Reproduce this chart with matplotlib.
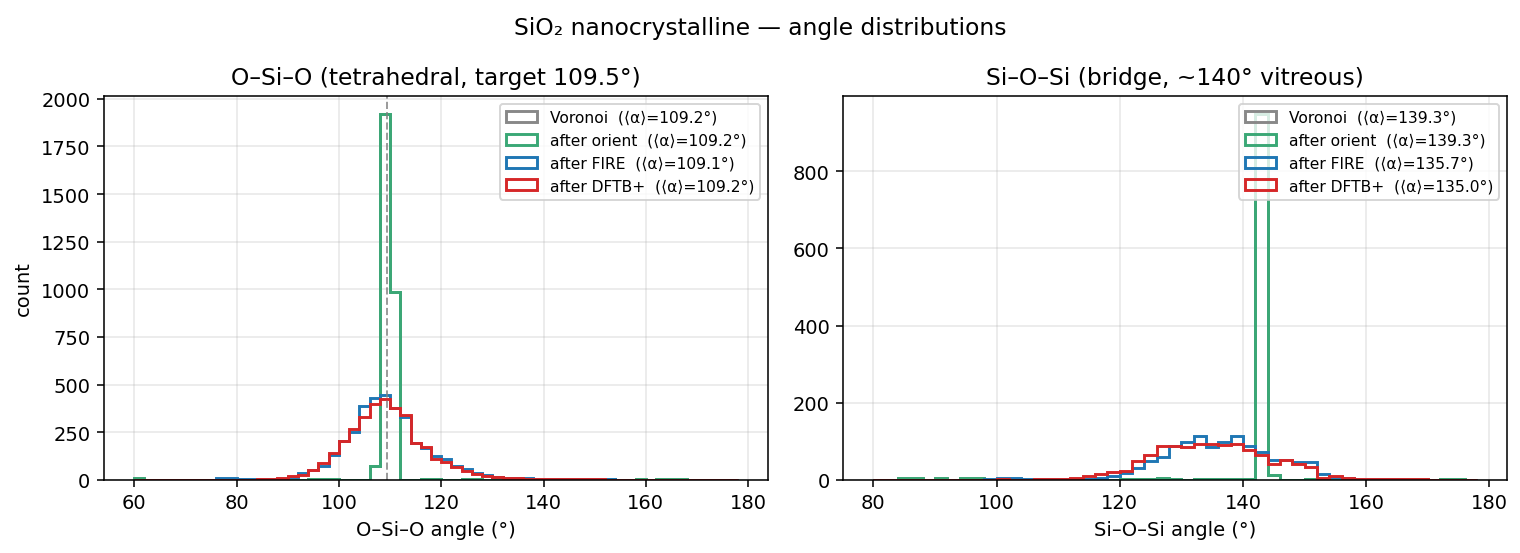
import matplotlib
matplotlib.use("Agg")
import matplotlib.pyplot as plt
import numpy as np

plt.rcParams['font.family'] = ['DejaVu Sans', 'Noto Sans']

# bin edges (2 degree bins)
edges_osio = np.arange(60, 180, 2)
edges_siosi = np.arange(80, 180, 2)

# O-Si-O counts per bin, bins start at 60, 62, ... 176
orient_osio = [9, 0, 0, 0, 0, 0, 0, 0, 0, 0,
               0, 0, 0, 0, 0, 0, 0, 4, 5, 3,
               0, 0, 0, 75, 1919, 987, 0, 0, 5, 5,
               0, 0, 3, 3, 0, 0, 0, 0, 0, 0,
               0, 0, 0, 0, 0, 0, 5, 0, 0, 6,
               0, 3, 3, 3, 0, 0, 0, 0, 0]
voronoi_osio = list(orient_osio)  # identical to after orient
fire_osio = [0, 0, 0, 0, 0, 0, 0, 0, 12, 12,
             4, 3, 3, 3, 5, 14, 35, 50, 75, 128,
             202, 250, 390, 432, 447, 375, 330, 195, 168, 124,
             108, 75, 57, 38, 24, 15, 12, 10, 8, 6,
             5, 4, 3, 3, 2, 2, 2, 1, 1, 1,
             1, 0, 0, 0, 0, 0, 0, 0, 0]
dftb_osio = [0, 0, 0, 0, 0, 0, 0, 0, 0, 0,
             1, 1, 2, 3, 8, 18, 28, 50, 88, 140,
             203, 268, 330, 398, 425, 377, 340, 195, 170, 107,
             95, 68, 48, 32, 20, 14, 11, 9, 7, 5,
             4, 3, 3, 2, 2, 2, 1, 1, 1, 1,
             1, 1, 1, 1, 0, 0, 0, 0, 0]

# Si-O-Si counts per bin, bins start at 80, 82, ... 176
orient_siosi = [0, 0, 4, 4, 0, 4, 0, 4, 4, 0,
                0, 0, 0, 0, 0, 0, 0, 0, 0, 0,
                3, 3, 3, 5, 3, 0, 3, 3, 3, 3,
                2, 948, 13, 0, 0, 3, 0, 0, 0, 0,
                0, 0, 2, 2, 2, 0, 2, 2, 0]
voronoi_siosi = list(orient_siosi)
fire_siosi = [0, 0, 0, 0, 0, 0, 0, 0, 0, 2,
              5, 5, 1, 1, 1, 2, 2, 3, 4, 10,
              17, 30, 50, 60, 89, 98, 115, 85, 98, 115,
              89, 71, 51, 51, 47, 47, 15, 8, 4, 3,
              1, 1, 1, 0, 0, 0, 0, 0, 0]
dftb_siosi = [0, 0, 0, 0, 0, 0, 0, 0, 0, 0,
              1, 0, 0, 1, 2, 2, 4, 9, 16, 20,
              22, 50, 65, 87, 89, 86, 94, 93, 90, 94,
              77, 64, 42, 51, 40, 34, 5, 10, 5, 3,
              1, 1, 1, 1, 1, 0, 0, 0, 0]

stages = ['Voronoi', 'after orient', 'after FIRE', 'after DFTB+']
colors = ['#888888', '#3aa876', '#1f77b4', '#d62728']
means_osio = [109.2, 109.2, 109.1, 109.2]
means_siosi = [139.3, 139.3, 135.7, 135.0]

fig, axs = plt.subplots(1, 2, figsize=(10.864, 3.957), dpi=140)
fig.subplots_adjust(left=0.0684, right=0.991, bottom=0.132, top=0.825, wspace=0.113)
fig.suptitle('SiO\u2082 nanocrystalline \u2014 angle distributions', fontsize=12, y=0.97)

panels = [
    (axs[0], edges_osio, [voronoi_osio, orient_osio, fire_osio, dftb_osio], means_osio,
     'O\u2013Si\u2013O (tetrahedral, target 109.5\u00b0)', 'O\u2013Si\u2013O angle (\u00b0)'),
    (axs[1], edges_siosi, [voronoi_siosi, orient_siosi, fire_siosi, dftb_siosi], means_siosi,
     'Si\u2013O\u2013Si (bridge, ~140\u00b0 vitreous)', 'Si\u2013O\u2013Si angle (\u00b0)'),
]

for ax, edges, series, means, title, xlabel in panels:
    for counts, name, c, m in zip(series, stages, colors, means):
        ax.hist(edges[:-1], bins=edges, weights=counts, histtype='step',
                color=c, lw=1.5, label=f'{name}  (\u27e8\u03b1\u27e9={m:.1f}\u00b0)')
    ax.set_title(title, fontsize=12)
    ax.set_xlabel(xlabel)
    ax.grid(alpha=0.3)
    ax.legend(loc='upper right', fontsize=8)

axs[0].axvline(109.5, color='gray', ls='--', lw=1, alpha=0.8)
axs[0].set_ylabel('count')

fig.savefig('out.png', dpi=140)
